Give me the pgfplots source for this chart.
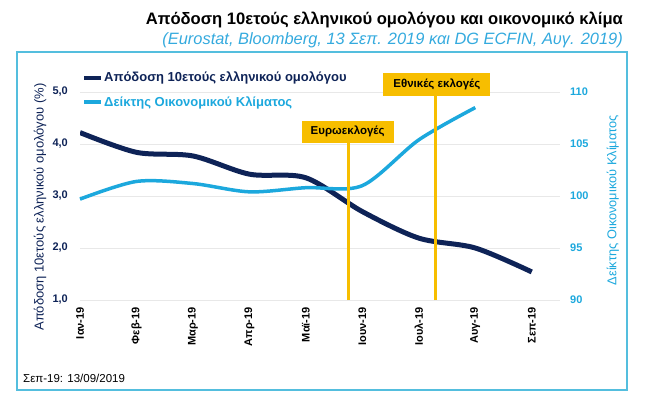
\documentclass[border=0pt]{standalone}
\usepackage{fontspec}
\setmainfont{Liberation Sans}
\usepackage{pgfplots}
\pgfplotsset{compat=1.18}

\definecolor{navy}{RGB}{14,35,87}
\definecolor{climcyan}{RGB}{28,168,221}
\definecolor{subcyan}{RGB}{52,170,222}
\definecolor{boxcyan}{RGB}{84,190,222}
\definecolor{gold}{RGB}{247,190,0}

\newcommand{\fs}[1]{\fontsize{#1}{#1}\selectfont}

\begin{document}
\begin{tikzpicture}[x=1pt,y=1pt]
\useasboundingbox (0,0) rectangle (654,408);

% frame, title, note
\draw[boxcyan, line width=2pt] (17,18) rectangle (627,356);
\node[anchor=base east, inner sep=0pt, font=\bfseries\fs{16.6}] at (623,383)
  {Απόδοση 10ετούς ελληνικού ομολόγου και οικονομικό κλίμα};
\node[anchor=base east, inner sep=0pt, text=subcyan, font=\itshape\fs{16.4}] at (623,363)
  {(Eurostat, Bloomberg, 13 Σεπ. 2019 και DG ECFIN, Αυγ. 2019)};
\node[anchor=base west, inner sep=0pt, font=\fs{11.5}] at (23,26) {Σεπ-19: 13/09/2019};

% bond yield, left axis
\begin{axis}[
    at={(80pt,108pt)}, anchor=south west,
    scale only axis, width=480pt, height=208pt,
    xmin=0, xmax=8.5, ymin=1, ymax=5,
    axis y line*=left, axis x line*=bottom,
    axis line style={draw=none},
    major tick length=0pt,
    xtick={0,...,8},
    xticklabels={Ιαν-19,Φεβ-19,Μαρ-19,Απρ-19,Μαϊ-19,Ιουν-19,Ιουλ-19,Αυγ-19,Σεπ-19},
    xticklabel style={rotate=90, anchor=east, inner sep=0pt, font=\bfseries\fs{11}},
    xticklabel shift=7pt,
    ytick={1,2,3,4,5},
    yticklabel style={inner sep=0pt, text=navy, font=\bfseries\fs{11}},
    yticklabel shift=12pt,
    /pgf/number format/use comma,
    /pgf/number format/fixed,
    /pgf/number format/fixed zerofill,
    /pgf/number format/precision=1,
    /pgf/number format/assume math mode=true,
    ymajorgrids,
    grid style={gray!18, line width=0.8pt},
    ylabel={Απόδοση 10ετούς ελληνικού ομολόγου (\%)},
    every axis y label/.style={at={(rel axis cs:-0.083,0.447)}, rotate=90,
        anchor=center, inner sep=0pt, text=navy, font=\fs{13}},
]
% monthly averages Jan-Sep 2019
\addplot[navy, line width=5pt, smooth] coordinates {
    (0,4.22) (1,3.84) (2,3.77) (3,3.42) (4,3.35)
    (5,2.70) (6,2.19) (7,2.00) (8,1.54)
};
\end{axis}

% economic sentiment, right axis
\begin{axis}[
    at={(80pt,108pt)}, anchor=south west,
    scale only axis, width=480pt, height=208pt,
    xmin=0, xmax=8.5, ymin=90, ymax=110,
    axis y line*=right, hide x axis,
    axis line style={draw=none},
    major tick length=0pt,
    ytick={90,95,...,110},
    yticklabel style={inner sep=0pt, text=climcyan, font=\bfseries\fs{11}},
    yticklabel shift=10pt,
    /pgf/number format/assume math mode=true,
    ylabel={Δείκτης Οικονομικού Κλίματος},
    every axis y label/.style={at={(rel axis cs:1.11,0.48)}, rotate=90,
        anchor=center, inner sep=0pt, text=climcyan, font=\fs{12.8}},
    clip=false,
    legend cell align=left,
    legend image code/.code={\draw[#1] (0pt,0pt) -- (17pt,0pt);},
    legend style={at={(rel axis cs:0,1)}, anchor=north west,
        xshift=2pt, yshift=20pt, draw=none, fill=none, inner sep=0pt,
        row sep=13pt, font=\bfseries\fs{13},
        nodes={inner xsep=1pt, inner ysep=0pt}},
]
\addlegendimage{navy, line width=4pt}
\addlegendentry{\textcolor{navy}{Απόδοση 10ετούς ελληνικού ομολόγου}}
\addplot[climcyan, line width=3.5pt, smooth] coordinates {
    (0,99.7) (1,101.4) (2,101.2) (3,100.4) (4,100.8)
    (5,101.0) (6,105.4) (7,108.5)
};
\addlegendentry{\textcolor{climcyan}{Δείκτης Οικονομικού Κλίματος}}

% elections
\addplot[gold, line width=3pt, forget plot] coordinates {(4.76,90) (4.76,105.5)};
\addplot[gold, line width=3pt, forget plot] coordinates {(6.30,90) (6.30,110)};
\node[fill=gold, anchor=south, inner xsep=9pt, minimum height=22pt,
      font=\bfseries\fs{11.5}] at (axis cs:4.74,105.1) {Ευρωεκλογές};
\node[fill=gold, anchor=south, inner xsep=10pt, minimum height=23pt,
      font=\bfseries\fs{11.5}] at (axis cs:6.32,109.6) {Εθνικές εκλογές};
\end{axis}
\end{tikzpicture}
\end{document}
